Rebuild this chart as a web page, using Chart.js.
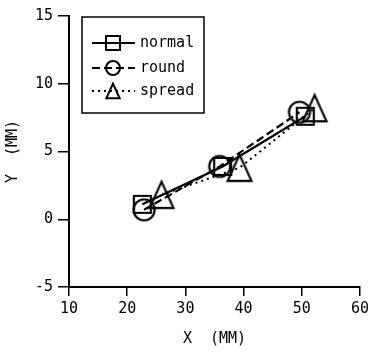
<!DOCTYPE html>
<html>
<head>
<meta charset="utf-8">
<script src="https://cdn.jsdelivr.net/npm/chart.js@4.4.1/dist/chart.umd.min.js"></script>
<style>
  html, body { margin: 0; padding: 0; background: #fff; }
  #wrap { width: 373px; height: 356px; }
</style>
</head>
<body>
<div id="wrap"><canvas id="chart" width="373" height="356"></canvas></div>
<script>
// Measured positions (mm)
const seriesNames = ['normal', 'round', 'spread'];
const normalX = [22.6, 36.4, 50.6];
const normalY = [1.1, 3.9, 7.6];
const roundX  = [22.9, 35.9, 49.6];
const roundY  = [0.7, 3.9, 7.9];
const spreadX = [25.9, 39.3, 52.2];
const spreadY = [1.8, 3.8, 8.2];

const xTicks = [10, 20, 30, 40, 50, 60];
const yTicks = [-5, 0, 5, 10, 15];

const MONO = '"DejaVu Sans Mono", monospace';

// Prefer a tall narrow face for axis text when one is available
function pickAxisFont() {
  const g = document.createElement('canvas').getContext('2d');
  g.font = '18px monospace';
  const base = g.measureText('0123456789XM').width;
  g.font = '18px "Liberation Sans Narrow", monospace';
  const narrow = g.measureText('0123456789XM').width;
  return Math.abs(narrow - base) > 0.5
    ? { family: '"Liberation Sans Narrow", sans-serif', size: 18, gap: '    ' }
    : { family: MONO, size: 15, gap: '  ' };
}
const AX = pickAxisFont();

// Hollow plotter-style markers
function drawMarker(ctx, kind, cx, cy, s) {
  ctx.beginPath();
  if (kind === 'square') {
    ctx.rect(cx - s / 2, cy - s / 2, s, s);
  } else if (kind === 'circle') {
    ctx.arc(cx, cy, s / 2, 0, Math.PI * 2);
  } else {
    const w = s * 0.95, h = s * 1.05;
    ctx.moveTo(cx, cy - h / 2);
    ctx.lineTo(cx + w / 2, cy + h / 2);
    ctx.lineTo(cx - w / 2, cy + h / 2);
    ctx.closePath();
  }
  ctx.stroke();
}

function markerCanvas(kind, s) {
  const c = document.createElement('canvas');
  const pad = 3;
  c.width = Math.ceil(s * 1.1) + pad * 2;
  c.height = Math.ceil(s * 1.1) + pad * 2;
  const g = c.getContext('2d');
  g.strokeStyle = '#000';
  g.lineWidth = 2.2;
  drawMarker(g, kind, c.width / 2, c.height / 2, s);
  return c;
}

const kinds = ['square', 'circle', 'triangle'];
const dashes = [[], [8, 4], [2, 4]];
const sizes = [17, 21, 25];

function pts(xs, ys) { return xs.map((x, i) => ({ x: x, y: ys[i] })); }
const allData = [pts(normalX, normalY), pts(roundX, roundY), pts(spreadX, spreadY)];

const datasets = seriesNames.map((name, i) => ({
  label: name,
  data: allData[i],
  borderColor: '#000',
  borderWidth: i === 2 ? 2 : 2.2,
  borderDash: dashes[i],
  pointStyle: markerCanvas(kinds[i], sizes[i]),
  showLine: true,
  fill: false,
  tension: 0
}));

// Boxed legend with line sample + marker, drawn inside the plot area
const boxLegend = {
  id: 'boxLegend',
  afterDraw(chart) {
    const ctx = chart.ctx;
    const a = chart.chartArea;
    const x0 = a.left + 13, y0 = a.top + 1, w = 122, h = 96;
    ctx.save();
    ctx.fillStyle = '#fff';
    ctx.fillRect(x0, y0, w, h);
    ctx.strokeStyle = '#000';
    ctx.lineWidth = 1.5;
    ctx.strokeRect(x0, y0, w, h);
    const rows = [26, 51, 74];
    chart.data.datasets.forEach((ds, i) => {
      const y = y0 + rows[i];
      ctx.strokeStyle = '#000';
      ctx.lineWidth = 2;
      ctx.setLineDash(ds.borderDash);
      ctx.beginPath();
      ctx.moveTo(x0 + 10, y);
      ctx.lineTo(x0 + 53, y);
      ctx.stroke();
      ctx.setLineDash([]);
      drawMarker(ctx, kinds[i], x0 + 31, y, 14);
      ctx.fillStyle = '#000';
      ctx.font = '15px ' + MONO;
      ctx.textAlign = 'left';
      ctx.textBaseline = 'middle';
      ctx.fillText(ds.label, x0 + 58, y);
    });
    ctx.restore();
  }
};

const axisFont = { family: AX.family, size: AX.size };

new Chart(document.getElementById('chart'), {
  type: 'scatter',
  data: { datasets: datasets },
  plugins: [boxLegend],
  options: {
    responsive: false,
    animation: false,
    devicePixelRatio: 1,
    layout: { padding: { left: 0, right: 11, top: 16, bottom: 0 } },
    plugins: { legend: { display: false }, tooltip: { enabled: false } },
    scales: {
      x: {
        type: 'linear',
        min: xTicks[0],
        max: xTicks[xTicks.length - 1],
        afterBuildTicks(scale) { scale.ticks = xTicks.map(v => ({ value: v })); },
        afterFit(scale) { scale.height = 69; },
        ticks: { color: '#000', font: axisFont, padding: 4, maxRotation: 0 },
        grid: { drawOnChartArea: false, drawTicks: true, tickLength: 9, color: '#000', lineWidth: 1.5 },
        border: { display: true, color: '#000', width: 2 },
        title: { display: true, text: 'X' + AX.gap + '(MM)', color: '#000', font: axisFont, padding: { top: 0, bottom: 8 } }
      },
      y: {
        type: 'linear',
        min: yTicks[0],
        max: yTicks[yTicks.length - 1],
        afterBuildTicks(scale) { scale.ticks = yTicks.map(v => ({ value: v })); },
        afterFit(scale) { scale.width = 69; },
        ticks: { color: '#000', font: axisFont, padding: 5 },
        grid: { drawOnChartArea: false, drawTicks: true, tickLength: 11, color: '#000', lineWidth: 1.5 },
        border: { display: true, color: '#000', width: 2 },
        title: { display: true, text: 'Y' + AX.gap + '(MM)', color: '#000', font: axisFont, padding: { top: 4, bottom: 0 } }
      }
    }
  }
});
</script>
</body>
</html>
